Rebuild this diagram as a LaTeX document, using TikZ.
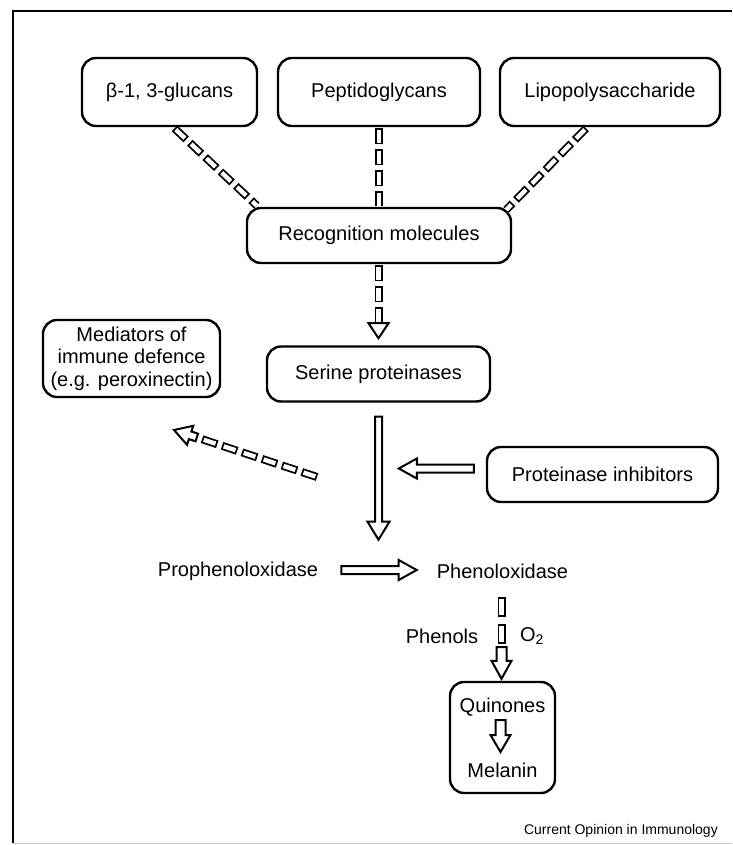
\documentclass[tikz,border=0pt]{standalone}
\usepackage{fontspec}
\setmainfont{Liberation Sans}
\usetikzlibrary{calc}
\tikzset{
  box/.style={draw, line width=2.4pt, rounded corners=14pt, fill=white,
    font=\fontsize{20}{22.5}\selectfont, align=center, inner sep=0pt},
  lbl/.style={font=\fontsize{20}{22.5}\selectfont, inner sep=0pt},
  captxt/.style={font=\fontsize{14}{16}\selectfont, inner sep=0pt},
  rectchain/.style={line width=8pt, dash pattern=on 16pt off 5pt,
    postaction={draw=white, line width=4.4pt, dash pattern=on 12.4pt off 8.6pt, dash phase=19.2pt}},
  rectchainlong/.style={line width=8pt, dash pattern=on 20pt off 7pt,
    postaction={draw=white, line width=4.4pt, dash pattern=on 16.4pt off 10.6pt, dash phase=25.2pt}},
  barrow/.style={draw, line width=2pt, fill=white, line join=miter},
  frameline/.style={line width=2.2pt},
}
\newcommand\blockarr[5]{%
  \coordinate (baS) at (#1);
  \coordinate (baT) at (#2);
  \coordinate (baC) at ($(baT)!#5!(baS)$);
  \draw[barrow] ($(baS)!#3!90:(baT)$) -- ($(baC)!#3!-90:(baS)$) -- ($(baC)!#4!-90:(baS)$)
    -- (baT) -- ($(baC)!#4!90:(baS)$) -- ($(baC)!#3!90:(baS)$) -- ($(baS)!#3!-90:(baT)$) -- cycle;}
\newcommand\openhead[3]{%
  \coordinate (ohB) at (#1);
  \coordinate (ohT) at (#2);
  \draw[barrow] ($(ohB)!#3!90:(ohT)$) -- (ohT) -- ($(ohB)!#3!-90:(ohT)$) -- cycle;}
\begin{document}
\begin{tikzpicture}[x=1pt, y=-1pt]
\useasboundingbox (0,0) rectangle (732,845);
% frame
\draw[frameline] (13,843) -- (13,11) -- (732,11);
\draw[gray!45, line width=1pt] (13,843) -- (732,843);

% nodes
\node[box, minimum width=175pt, minimum height=68pt] (beta) at (169.5,92) {β-1, 3-glucans};
\node[box, minimum width=202pt, minimum height=68pt] (pep) at (379,92) {Peptidoglycans};
\node[box, minimum width=220pt, minimum height=68pt] (lipo) at (610,92) {Lipopolysaccharide};
\node[box, minimum width=264pt, minimum height=55pt] (recog) at (379,235.5) {Recognition molecules};
\node[box, minimum width=223pt, minimum height=55pt] (serine) at (378.5,374) {Serine proteinases};
\node[box, minimum width=177pt, minimum height=77pt] (med) at (131.5,358.5) {Mediators of\\immune defence\\(e.g. peroxinectin)};
\node[box, minimum width=231pt, minimum height=55pt] (inhib) at (602.5,474.5) {Proteinase inhibitors};
\node[lbl] (prophenol) at (238,571) {Prophenoloxidase};
\node[lbl] (phenol) at (502.5,571) {Phenoloxidase};
\node[lbl] (phenols) at (442,636) {Phenols};
\node[lbl] (otwo) at (532,636) {O\textsubscript{2}};
\node[box, minimum width=105pt, minimum height=111pt] (quinbox) at (502.5,737.5) {};
\node[lbl] (quin) at (502.5,707) {Quinones};
\node[lbl] (mel) at (502.5,770) {Melanin};
\node[captxt, anchor=east] (caption) at (718,831) {Current Opinion in Immunology};

% chains from inducers to recognition molecules
\draw[rectchain] ($(beta.south)+(5,1.2)$) -- ($(recog.north west)+(11,-1.2)$);
\draw[rectchain] ($(pep.south)+(0,1.2)$) -- ($(pep.south |- recog.north)+(0,-1.2)$);
\draw[rectchain] ($(lipo.south)+(-24,1.2)$) -- ($(recog.north east)+(-6,3)$);

% recognition -> serine proteinases
\coordinate (rsH) at ($(recog.south)+(-0.5,59)$);
\draw[rectchain] ($(recog.south)+(-0.5,1.2)$) -- (rsH);
\openhead{rsH}{$(serine.north)+(0,-7)$}{10pt}

% serine proteinases -> prophenoloxidase activation
\blockarr{$(serine.south)+(0,14)$}{$(serine.south)+(0,137)$}{3.5pt}{11pt}{18pt}

% proteinase inhibitors
\blockarr{$(inhib.west)+(-12,-6)$}{$(inhib.west)+(-87,-6)$}{4pt}{10pt}{18pt}

% prophenoloxidase -> phenoloxidase
\blockarr{$(prophenol.east)+(23,-1)$}{$(phenol.west)+(-20,-1)$}{4pt}{10pt}{18pt}

% dashed arrow toward mediators
\coordinate (medS) at (317,477);
\coordinate (medT) at (174,430);
\draw[rectchain] (medS) -- ($(medT)!27pt!(medS)$);
\blockarr{$(medT)!24pt!(medS)$}{medT}{4pt}{10pt}{17pt}

% phenoloxidase -> quinones
\draw[rectchainlong] ($(phenol.center)+(-1,26)$) -- ($(phenol.center)+(-1,73)$);
\blockarr{$(phenol.center)+(-1,76)$}{$(quinbox.north)+(-1,-2)$}{5pt}{10pt}{18pt}

% quinones -> melanin
\blockarr{$(quin.center)+(-2,13)$}{$(mel.center)+(-2,-18)$}{5pt}{10pt}{17pt}
\end{tikzpicture}
\end{document}
